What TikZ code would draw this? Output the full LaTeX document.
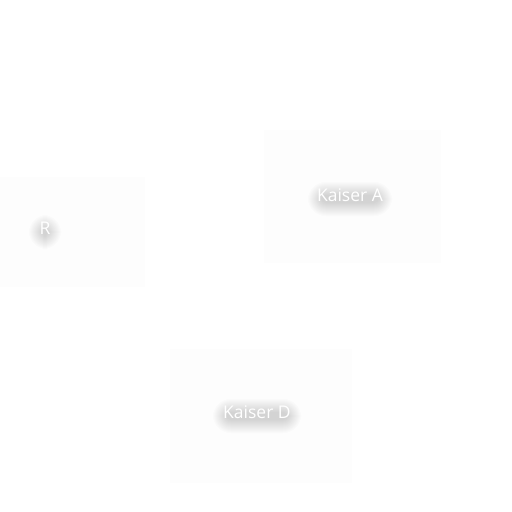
\documentclass[tikz,border=0pt]{standalone}
\usepackage{fontspec}
\setmainfont{Open Sans}
\usetikzlibrary{calc}
\definecolor{boxfill}{HTML}{FDFDFD}
\definecolor{shadowc}{HTML}{505050}
\tikzset{
  panel/.style={fill=boxfill, draw=none},
  lbl/.style={text=white, font=\fontsize{17.5}{20}\selectfont, inner sep=0pt}
}
% soft blurred shadow under a label: layered rounded rectangles
\newcommand{\softshadow}[3]{% centre, half width, half height
  \foreach \k in {0,...,13}{
    \fill[shadowc, opacity=0.016, rounded corners={(#3+14-\k)*1pt}]
      ($(#1)+(-#2-14+\k,-#3-9+\k)$) rectangle ($(#1)+(#2+14-\k,#3+17-\k)$);
  }
}
\begin{document}
\begin{tikzpicture}[x=1pt,y=-1pt]
\useasboundingbox (0,0) rectangle (512,512);
\fill[white] (0,0) rectangle (512,512);
\node[panel, minimum width=145pt, minimum height=110pt, inner sep=0pt] (boxR) at (72.5,232) {};
\node[panel, minimum width=177pt, minimum height=133pt, inner sep=0pt] (boxA) at (352.5,196.5) {};
\node[panel, minimum width=182pt, minimum height=134pt, inner sep=0pt] (boxD) at (261,416) {};
\coordinate (cR) at (45,228);
\coordinate (cA) at (350,195);
\coordinate (cD) at (257,412);
\softshadow{cR}{2}{4}
\softshadow{cA}{28}{4}
\softshadow{cD}{30}{4}
\node[lbl] (R) at (cR) {R};
\node[lbl] (A) at (cA) {Kaiser A};
\node[lbl] (D) at (cD) {Kaiser D};
\end{tikzpicture}
\end{document}
